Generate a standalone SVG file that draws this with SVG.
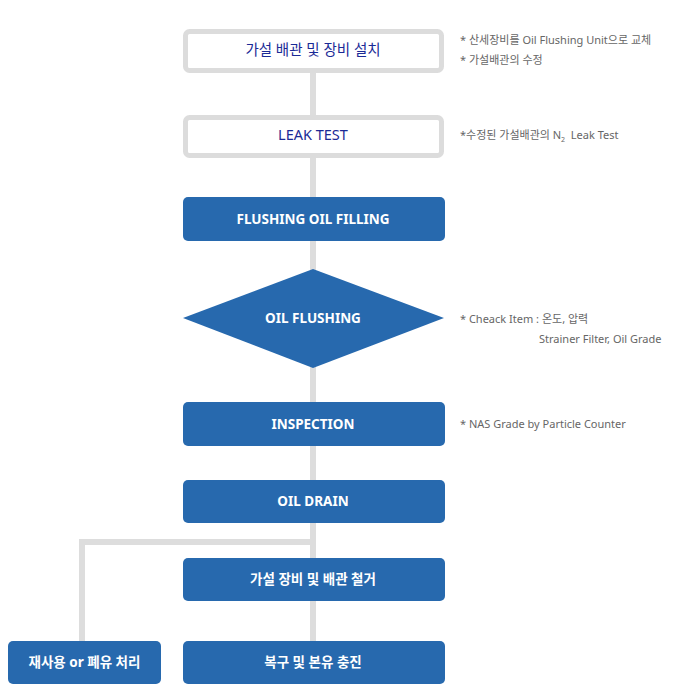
<svg xmlns="http://www.w3.org/2000/svg" width="679" height="700" viewBox="0 0 679 700">
<style>
.conn{stroke:#dddddd;stroke-width:6;fill:none}
.wbox{fill:#ffffff;stroke:#dcdcdc;stroke-width:5}
.bbox{fill:#2769ae}
.wt{font-family:"Noto Sans","Noto Sans CJK KR",sans-serif;font-size:14.5px;fill:#1a2a96;text-anchor:middle}
.bt{font-family:"Noto Sans","Noto Sans CJK KR",sans-serif;font-size:13.5px;font-weight:bold;fill:#ffffff;text-anchor:middle}
.note{font-family:"Noto Sans","Noto Sans CJK KR",sans-serif;font-size:11px;fill:#666666}
</style>
<rect width="679" height="700" fill="#ffffff"/>
<g id="connectors">
<line class="conn" x1="313" y1="70" x2="313" y2="662"/>
<polyline class="conn" points="313,542 82,542 82,662"/>
</g>
<g id="n1"><rect class="wbox" x="185.500" y="31.500" width="256" height="39" rx="4"/><text class="wt" x="313" y="55">가설 배관 및 장비 설치</text></g>
<g id="n2"><rect class="wbox" x="185.500" y="117.500" width="256" height="38" rx="4"/><text class="wt" x="313" y="140">LEAK TEST</text></g>
<g id="n3"><rect class="bbox" x="183" y="197" width="262" height="44" rx="5"/><text class="bt" x="313" y="224">FLUSHING OIL FILLING</text></g>
<g id="n4"><polygon class="bbox" points="313,269 444,318 313,368 183,318"/><text class="bt" x="313" y="323">OIL FLUSHING</text></g>
<g id="n5"><rect class="bbox" x="183" y="402" width="262" height="44" rx="5"/><text class="bt" x="313" y="429">INSPECTION</text></g>
<g id="n6"><rect class="bbox" x="183" y="480" width="262" height="43" rx="5"/><text class="bt" x="313" y="506">OIL DRAIN</text></g>
<g id="n7"><rect class="bbox" x="183" y="558" width="262" height="43" rx="5"/><text class="bt" x="313" y="584">가설 장비 및 배관 철거</text></g>
<g id="n8"><rect class="bbox" x="183" y="641" width="262" height="43" rx="5"/><text class="bt" x="313" y="667">복구 및 본유 충진</text></g>
<g id="n9"><rect class="bbox" x="8" y="641" width="153" height="43" rx="5"/><text class="bt" x="84.500" y="667">재사용 or 폐유 처리</text></g>
<g id="notes">
<text class="note" x="460" y="44">* 산세장비를 Oil Flushing Unit으로 교체</text>
<text class="note" x="460" y="64">* 가설배관의 수정</text>
<text class="note" x="460" y="139" xml:space="preserve">*수정된 가설배관의 N<tspan font-size="7" dy="3">2</tspan><tspan dy="-3">  Leak Test</tspan></text>
<text class="note" x="460" y="323">* Cheack Item : 온도, 압력</text>
<text class="note" x="539" y="343">Strainer Filter, Oil Grade</text>
<text class="note" x="460" y="428">* NAS Grade by Particle Counter</text>
</g>
</svg>
